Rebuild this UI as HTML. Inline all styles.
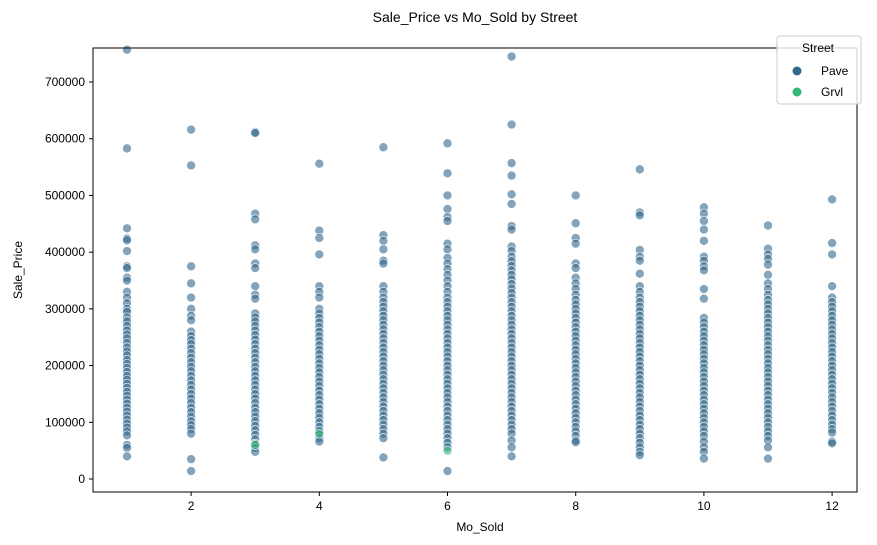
<!DOCTYPE html>
<html><head><meta charset="utf-8"><style>
body{margin:0;background:#fff;}
svg{display:block;font-family:"Liberation Sans","DejaVu Sans",sans-serif;}
</style></head><body>
<svg id="chart" width="877" height="545">
<text x="475" y="22" text-anchor="middle" font-size="14" fill="#000">Sale_Price vs Mo_Sold by Street</text>
<g id="marks"></g>
<rect x="93" y="48" width="764" height="444" fill="none" stroke="#000" stroke-width="1"/>
<g id="axes"></g>
<text x="480" y="531" text-anchor="middle" font-size="12">Mo_Sold</text>
<text x="22" y="270" text-anchor="middle" font-size="12" transform="rotate(-90 22 270)">Sale_Price</text>
<g>
<rect x="777" y="36" width="84" height="68" rx="3" fill="#fff" fill-opacity="0.8" stroke="#ccc"/>
<text x="818" y="52" text-anchor="middle" font-size="12">Street</text>
<circle cx="797" cy="71" r="4.5" fill="#31688e"/>
<text x="821" y="75" font-size="12">Pave</text>
<circle cx="797" cy="92" r="4.5" fill="#35b779"/>
<text x="821" y="96" font-size="12">Grvl</text>
</g>
</svg>
<script>
const months=[1,2,3,4,5,6,7,8,9,10,11,12];
const xTicks=[2,4,6,8,10,12];
const yTicks=[0,100000,200000,300000,400000,500000,600000,700000];
const paveK=[
[757,583,442,424,421,402,375,372,355,350,330,320,310,300,295,285,278,270,262,255,248,240,232,225,218,210,203,196,189,182,175,168,161,154,147,140,133,126,119,112,105,98,91,84,77,60,55,40],
[616,553,375,345,320,300,288,280,260,252,245,238,230,222,214,206,198,190,182,174,166,158,150,142,134,126,118,110,102,95,88,80,35,14],
[612,610,468,458,412,405,380,372,340,325,318,292,285,278,270,262,254,246,238,230,222,214,206,198,190,182,174,166,158,150,142,134,126,118,110,102,94,86,78,70,62,55,48],
[556,438,425,396,340,330,320,300,292,284,276,268,260,252,244,236,228,220,212,204,196,188,180,172,164,156,148,140,132,124,116,108,100,92,85,78,72,66],
[585,430,420,405,385,380,340,330,320,312,304,296,288,280,272,264,256,248,240,232,224,216,208,200,192,184,176,168,160,152,144,136,128,120,112,104,96,88,80,72,38],
[592,539,500,476,462,455,415,405,390,380,370,360,350,340,330,320,312,304,296,288,280,272,264,256,248,240,232,224,216,208,200,192,184,176,168,160,152,144,136,128,120,112,104,96,88,80,72,64,56,14],
[745,625,557,535,502,485,446,440,410,402,392,384,376,368,360,352,344,336,328,320,312,304,296,288,280,272,264,256,248,240,232,224,216,208,200,192,184,176,168,160,152,144,136,128,120,112,104,96,88,80,68,56,40],
[500,451,425,415,380,372,355,345,335,325,316,308,300,292,284,276,268,260,252,244,236,228,220,212,204,196,188,180,172,164,156,148,140,132,124,116,108,100,92,84,76,68,65],
[546,470,465,404,392,385,362,340,330,320,312,304,296,288,280,272,264,256,248,240,232,224,216,208,200,192,184,176,168,160,152,144,136,128,120,112,104,96,88,80,72,64,56,48,42],
[479,468,455,440,420,392,385,375,368,335,318,284,276,268,260,252,244,236,228,220,212,204,196,188,180,172,164,156,148,140,132,124,116,108,100,92,84,76,66,56,48,36],
[447,406,396,388,378,360,345,335,325,316,308,300,292,284,276,268,260,252,244,236,228,220,212,204,196,188,180,172,164,156,148,140,132,124,116,108,100,92,84,76,68,56,36],
[493,416,396,340,320,312,304,296,288,280,272,264,256,248,240,232,224,216,208,200,192,184,176,168,160,152,144,136,128,120,112,104,96,88,82,66,63]
];
const grvlMonths=[3,4,6];
const grvlK=[60,80,50];

const NS='http://www.w3.org/2000/svg';
const xs=v=>127+(v-1)*64.1;
const ys=v=>479-v/100000*56.71;
const marks=document.getElementById('marks');
const axes=document.getElementById('axes');
function dot(x,y,c,name){
  const el=document.createElementNS(NS,'circle');
  el.setAttribute('cx',xs(x));el.setAttribute('cy',ys(y));el.setAttribute('r',4.5);
  el.setAttribute('fill',c);el.setAttribute('fill-opacity','0.6');
  el.setAttribute('stroke','#fff');el.setAttribute('stroke-width','0.6');
  
  
  marks.appendChild(el);
}
months.forEach((m,i)=>paveK[i].forEach(v=>dot(m,v*1000,'#31688e','point-pave')));
grvlMonths.forEach((m,i)=>dot(m,grvlK[i]*1000,'#35b779','point-grvl'));
xTicks.forEach(t=>{
  const l=document.createElementNS(NS,'line');
  l.setAttribute('x1',xs(t));l.setAttribute('x2',xs(t));l.setAttribute('y1',492);l.setAttribute('y2',496);l.setAttribute('stroke','#000');
  
  
  axes.appendChild(l);
  const tx=document.createElementNS(NS,'text');
  tx.setAttribute('x',xs(t));tx.setAttribute('y',510);tx.setAttribute('text-anchor','middle');tx.setAttribute('font-size','12');
  tx.textContent=t;
  
  
  axes.appendChild(tx);
});
yTicks.forEach(t=>{
  const l=document.createElementNS(NS,'line');
  l.setAttribute('x1',89);l.setAttribute('x2',93);l.setAttribute('y1',ys(t));l.setAttribute('y2',ys(t));l.setAttribute('stroke','#000');
  
  
  axes.appendChild(l);
  const tx=document.createElementNS(NS,'text');
  tx.setAttribute('x',85);tx.setAttribute('y',ys(t)+4);tx.setAttribute('text-anchor','end');tx.setAttribute('font-size','12');
  tx.textContent=t;
  
  
  axes.appendChild(tx);
});
</script>
</body></html>
